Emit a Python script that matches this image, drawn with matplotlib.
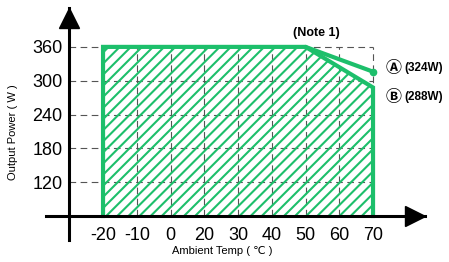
import matplotlib
matplotlib.use("Agg")
import matplotlib.pyplot as plt
from matplotlib.patches import Polygon
from matplotlib.transforms import offset_copy

# axis ticks (x is categorical: equally spaced, 10 is skipped)
temp_ticks = [-20, -10, 0, 20, 30, 40, 50, 60, 70]
power_ticks = [120, 180, 240, 300, 360]
baseline_w = 60

# derating curves
curve_b_temp = [-20, -20, 50, 70, 70]
curve_b_power = [baseline_w, 360, 360, 288, baseline_w]
curve_a_temp = [50, 70]
curve_a_power = [360, 316]

GREEN = "#1dbf6b"
GRID = "#555555"
FONT = ["Liberation Sans", "DejaVu Sans", "Noto Sans CJK JP"]

pos = {t: i for i, t in enumerate(temp_ticks)}
bx = [pos[t] for t in curve_b_temp]
ax_ = [pos[t] for t in curve_a_temp]

plt.rcParams["hatch.linewidth"] = 1.5
plt.rcParams["font.family"] = FONT

fig = plt.figure(figsize=(4.49, 2.62), dpi=100)
W, H = 449, 262
ax = fig.add_axes([46 / W, (H - 240) / H, (425 - 46) / W, (240 - 8) / H])
ax.set_xlim(-1.69, 9.54)
ax.set_ylim(17.4, 429)

# dashed grid
for t in temp_ticks:
    ax.plot([pos[t]] * 2, [baseline_w, 360], color=GRID, lw=0.8, ls=(0, (6, 4)), zorder=1)
for p in power_ticks:
    ax.plot([-1, pos[70]], [p, p], color=GRID, lw=0.8, ls=(0, (6, 4)), zorder=1)

# hatched area + outlines
ax.add_patch(Polygon(list(zip(bx, curve_b_power)), closed=True, facecolor="none",
                     edgecolor=GREEN, hatch="///", lw=0, zorder=2))
ax.plot(bx, curve_b_power, color=GREEN, lw=3, solid_joinstyle="miter", zorder=3)
ax.plot(ax_, curve_a_power, color=GREEN, lw=3, solid_capstyle="round", zorder=3)
ax.plot(ax_[-1:], curve_a_power[-1:], "o", color=GREEN, ms=4.5, zorder=3)

# axes as arrows
for side in ("top", "right"):
    ax.spines[side].set_visible(False)
ax.spines["left"].set_position(("data", -1))
ax.spines["bottom"].set_position(("data", baseline_w))
for side in ("left", "bottom"):
    ax.spines[side].set_linewidth(2.2)
    ax.spines[side].set_zorder(4)
ax.plot([-1], [1], "^", color="black", ms=15, clip_on=False, zorder=5,
        transform=offset_copy(ax.get_xaxis_transform(), fig, y=-10, units="dots"))
ax.plot([1], [baseline_w], ">", color="black", ms=15, clip_on=False, zorder=5,
        transform=offset_copy(ax.get_yaxis_transform(), fig, x=-10, units="dots"))

ax.set_xticks(range(len(temp_ticks)))
ax.set_xticklabels([str(t) for t in temp_ticks])
ax.set_yticks(power_ticks)
ax.set_yticklabels([str(p) for p in power_ticks])
ax.tick_params(axis="both", length=0, labelsize=13)
ax.tick_params(axis="x", pad=8)
ax.tick_params(axis="y", pad=5)

ax.set_xlabel("Ambient Temp ( ℃ )", fontsize=8)
ax.xaxis.set_label_coords(0.464, -0.047)
ax.xaxis.label.set_va("center")
ax.set_ylabel("Output Power ( W )", fontsize=8)
ax.yaxis.set_label_coords(-0.087, 0.466)
ax.yaxis.label.set_va("center")

ax.text(pos[50] + 0.32, 384, "(Note 1)", ha="center", va="center",
        fontsize=9, fontweight="bold")
for letter, note, y in (("Ⓐ", "(324W)", 322), ("Ⓑ", "(288W)", 271)):
    ax.text(pos[70] + 0.62, y, letter, ha="center", va="center",
            fontsize=11.5, fontweight="bold")
    ax.text(pos[70] + 0.92, y, note, ha="left", va="center",
            fontsize=8.5, fontweight="bold")

fig.savefig("out.png", dpi=100)
